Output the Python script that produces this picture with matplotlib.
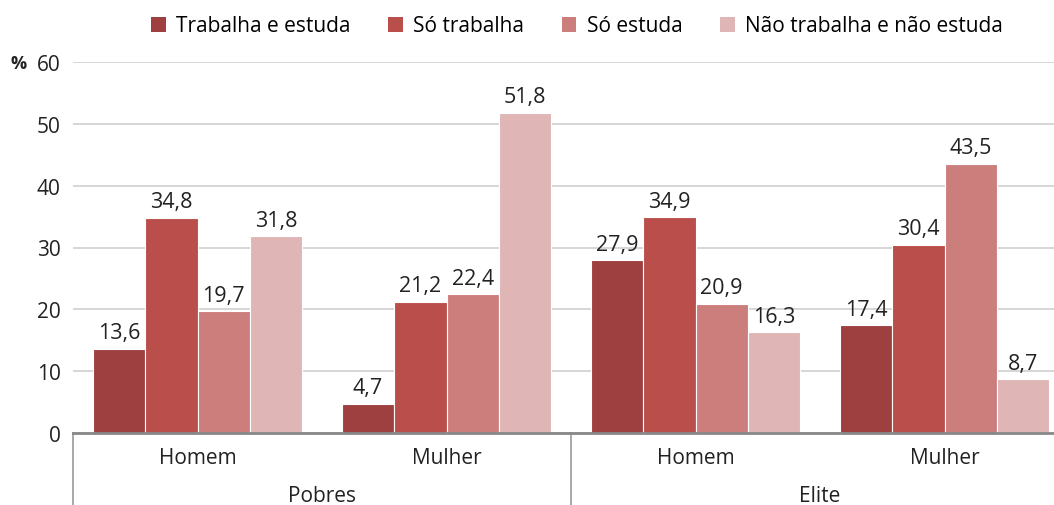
import numpy as np
import matplotlib.pyplot as plt
from matplotlib.patches import Patch

plt.rcParams['font.family'] = ['Open Sans', 'DejaVu Sans']

series = ["Trabalha e estuda", "Só trabalha", "Só estuda", "Não trabalha e não estuda"]
colors = ["#9e4040", "#b94e4b", "#cc7e7d", "#dfb5b5"]
sexes = ["Homem", "Mulher", "Homem", "Mulher"]
classes = ["Pobres", "Elite"]
values = [
    [13.6, 4.7, 27.9, 17.4],   # Trabalha e estuda
    [34.8, 21.2, 34.9, 30.4],  # Só trabalha
    [19.7, 22.4, 20.9, 43.5],  # Só estuda
    [31.8, 51.8, 16.3, 8.7],   # Não trabalha e não estuda
]

W, H = 1054, 506
fig = plt.figure(figsize=(W / 100, H / 100), dpi=100)
ax = fig.add_axes([73 / W, (H - 434) / H, 996 / W, (434 - 63) / H])

x = np.arange(len(sexes))
bw = 0.21
for i, (name, vals) in enumerate(zip(series, values)):
    pos = x + (i - 1.5) * bw
    ax.bar(pos, vals, bw, color=colors[i], edgecolor="white", linewidth=0.8, zorder=3, label=name)
    for p, v in zip(pos, vals):
        ax.annotate(f"{v:.1f}".replace(".", ","), (p, v), xytext=(0, 4), textcoords="offset points",
                    ha="center", va="bottom", fontsize=15.5, color="#222222")

ax.set_xlim(-0.5, 3.5)
ax.set_ylim(0, 60)
ax.set_yticks(range(0, 61, 10))
ax.tick_params(axis="y", length=0, labelsize=15, pad=9, colors="#222222")
ax.tick_params(axis="x", length=0, labelsize=15, pad=10, colors="#222222")
ax.set_xticks(x)
ax.set_xticklabels(sexes)
ax.grid(axis="y", color="#d0d0d0", linewidth=1.2, zorder=0)
for s in ["top", "right", "left"]:
    ax.spines[s].set_visible(False)
ax.spines["bottom"].set_color("#888888")
ax.spines["bottom"].set_linewidth(2)
ax.spines["bottom"].set_zorder(4)

tr = ax.get_xaxis_transform()
bottom = -72 / 371
for xs in [-0.5, 1.5]:
    ax.plot([xs, xs], [0, bottom], transform=tr, color="#999999", linewidth=1.2, clip_on=False)
for k, c in enumerate(classes):
    ax.text(2 * k + 0.5, -63 / 371, c, transform=tr, ha="center", va="center", fontsize=15, color="#222222")

fig.text(19 / W, 1 - 64 / H, "%", ha="center", va="center", fontsize=13, fontweight="bold", color="#222222")

handles = [Patch(facecolor=c, label=s) for c, s in zip(colors, series)]
fig.legend(handles=handles, loc="center", bbox_to_anchor=(577 / W, 1 - 27 / H), ncol=4, frameon=False,
           fontsize=15, handlelength=0.7, handleheight=0.7, handletextpad=0.5, columnspacing=1.8)

fig.savefig("out.png", dpi=100)
